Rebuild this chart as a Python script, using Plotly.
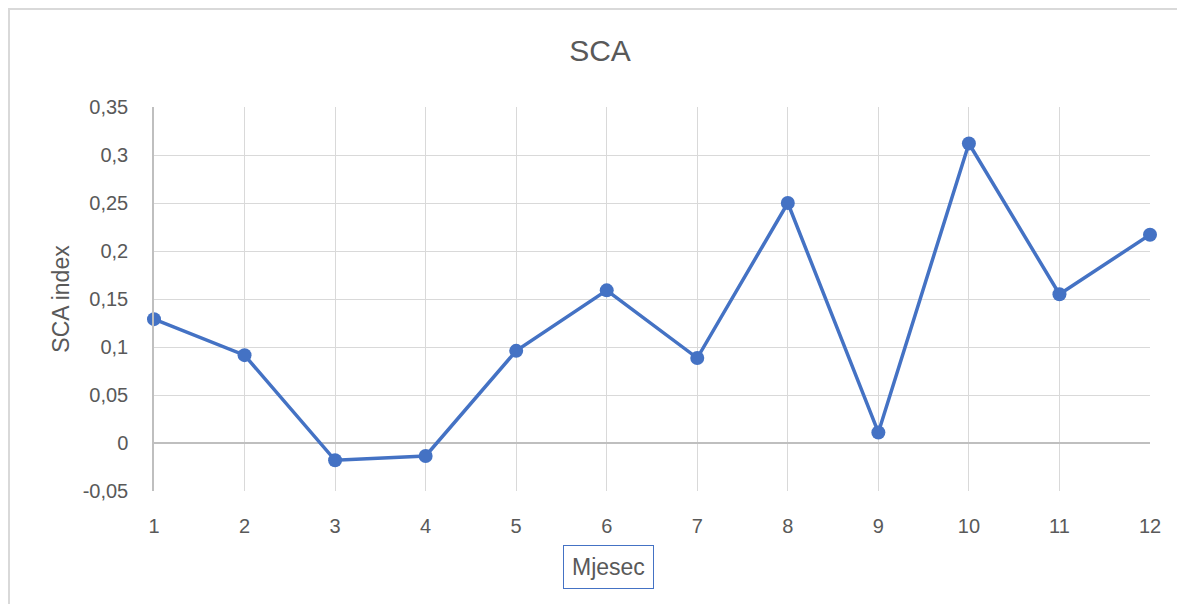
import plotly.graph_objects as go

months = [1, 2, 3, 4, 5, 6, 7, 8, 9, 10, 11, 12]
sca_index = [0.129, 0.0915, -0.018, -0.0135, 0.096, 0.159, 0.0885, 0.250, 0.011, 0.312, 0.155, 0.217]
y_ticks = [-0.05, 0, 0.05, 0.1, 0.15, 0.2, 0.25, 0.3, 0.35]
y_tick_text = ["-0,05", "0", "0,05", "0,1", "0,15", "0,2", "0,25", "0,3", "0,35"]

FONT = "Liberation Sans"
TXT = "#595959"
GRID = "#D9D9D9"

# page has an 8px body margin, so figure coords = window coords - 8
W, H = 1177, 596
L, T, PW, PH = 146, 99, 996, 384

fig = go.Figure()
fig.add_trace(go.Scatter(
    x=months, y=sca_index, mode="lines+markers",
    line=dict(color="#4472C4", width=3.5),
    marker=dict(color="#4472C4", size=14),
    cliponaxis=False, showlegend=False,
))

fig.update_layout(
    width=W, height=H,
    margin=dict(l=L, r=W - L - PW, t=T, b=H - T - PH),
    paper_bgcolor="white", plot_bgcolor="white",
    font=dict(family=FONT, color=TXT, size=20),
    title=dict(text="SCA", x=592 / W, xanchor="center", y=1 - 42 / H, yanchor="middle",
               font=dict(size=30, color=TXT, family=FONT)),
    xaxis=dict(range=[1, 12], tickvals=months, showgrid=True, gridcolor=GRID, gridwidth=1,
               zeroline=False, showline=False, ticks="", ticklabelstandoff=21,
               tickfont=dict(size=20, color=TXT)),
    yaxis=dict(range=[-0.05, 0.35], tickvals=y_ticks, ticktext=y_tick_text,
               showgrid=True, gridcolor=GRID, gridwidth=1,
               zeroline=True, zerolinecolor="#BFBFBF", zerolinewidth=1.5,
               showline=True, linecolor="#BFBFBF", linewidth=1.5, ticks="", ticklabelstandoff=20,
               tickfont=dict(size=20, color=TXT),
               title=dict(text="SCA index", standoff=7, font=dict(size=23, color=TXT))),
    shapes=[dict(type="rect", xref="paper", yref="paper",
                 x0=(1 - L) / PW, x1=(1400 - L) / PW,
                 y0=(T + PH - 800) / PH, y1=(T + PH - 1) / PH,
                 line=dict(color="#D9D9D9", width=2), layer="below")],
    annotations=[dict(text="Mjesec", xref="paper", yref="paper",
                      x=(600 - L) / PW, y=(T + PH - 558.5) / PH, xanchor="center", yanchor="middle",
                      showarrow=False, font=dict(size=23, color=TXT),
                      bordercolor="#4472C4", borderwidth=1, borderpad=8, bgcolor="white")],
)

fig.write_html("out.html")
